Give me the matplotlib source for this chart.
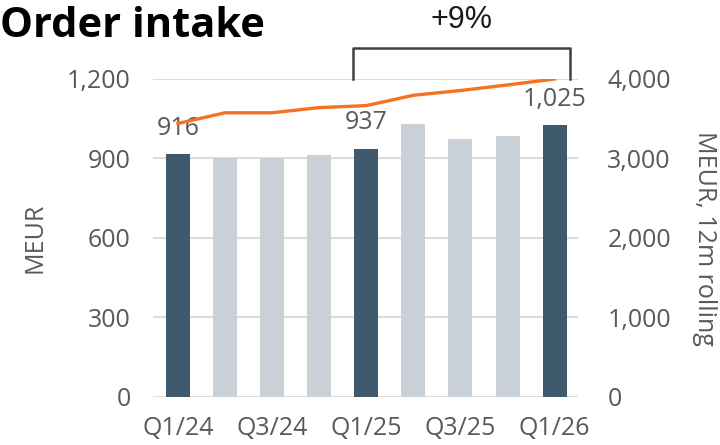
import matplotlib.pyplot as plt
import matplotlib.transforms as mtransforms

plt.rcParams["font.family"] = ["Open Sans", "DejaVu Sans"]

quarters = ["Q1/24", "Q2/24", "Q3/24", "Q4/24", "Q1/25", "Q2/25", "Q3/25", "Q4/25", "Q1/26"]
order_intake = [916, 902, 902, 914, 937, 1030, 972, 986, 1025]
rolling_12m = [3440, 3575, 3575, 3640, 3665, 3795, 3855, 3925, 4000]
highlight = [True, False, False, False, True, False, False, False, True]
tick_labels = ["Q1/24", "Q3/24", "Q1/25", "Q3/25", "Q1/26"]

DARK = "#3F5A6D"
LIGHT = "#C9D0D7"
ORANGE = "#F47320"
GREY = "#595959"
GRID = "#DCDCDC"


def main():
    fig = plt.figure(figsize=(7.2, 4.45), dpi=100)
    ax = fig.add_axes([0.2125, 0.108, 0.5905, 0.7145])
    ax2 = ax.twinx()

    x = list(range(len(quarters)))
    colors = [DARK if h else LIGHT for h in highlight]
    ax.bar(x, order_intake, width=0.51, color=colors, zorder=2)

    ax2.plot(x, rolling_12m, color=ORANGE, lw=2.4, zorder=3)

    # value labels on the highlighted quarters
    for i, (v, h) in enumerate(zip(order_intake, highlight)):
        if h:
            ax.annotate(f"{v:,}", (i, v), xytext=(0, 18.5), textcoords="offset points",
                        ha="center", va="center", fontsize=18, color=GREY, zorder=5)

    ax.set_xlim(-0.53, 8.5)
    ax.set_ylim(0, 1200)
    ax2.set_ylim(0, 4000)
    ax.set_yticks([0, 300, 600, 900, 1200])
    ax2.set_yticks([0, 1000, 2000, 3000, 4000])
    ax.set_yticklabels([f"{t:,}" for t in [0, 300, 600, 900, 1200]])
    ax2.set_yticklabels([f"{t:,}" for t in [0, 1000, 2000, 3000, 4000]])
    ax.set_xticks(x[::2])
    ax.set_xticklabels(tick_labels)

    ax.grid(axis="y", color=GRID, lw=1.5, zorder=0)
    ax.set_axisbelow(True)
    for a in (ax, ax2):
        for s in a.spines.values():
            s.set_visible(False)
        a.tick_params(length=0, labelsize=18, labelcolor=GREY)
    ax.tick_params(axis="y", pad=16)
    ax2.tick_params(axis="y", pad=21)
    ax.tick_params(axis="x", pad=14)

    ax.set_ylabel("MEUR", fontsize=18, color=GREY, labelpad=14)
    ax2.set_ylabel("MEUR, 12m rolling", fontsize=18, color=GREY, rotation=270,
                   labelpad=33)

    # growth bracket above the chart
    tr = mtransforms.blended_transform_factory(ax.transData, ax.transAxes)
    bx0, bx1 = 3.72, 8.32
    ax.plot([bx0, bx0, bx1, bx1], [1.0, 1.097, 1.097, 1.0], color="#404040",
            lw=1.8, transform=tr, clip_on=False)
    ax.text((bx0 + bx1) / 2, 1.185, "+9%", transform=tr, ha="center", va="center",
            fontsize=22, color="#1a1a1a", family=["Liberation Sans", "DejaVu Sans"])

    fig.text(0.0, 0.94, "Order intake", fontsize=30, fontweight="bold",
             color="black", ha="left", va="center")

    fig.savefig("out.png", dpi=100)
    plt.close(fig)


if __name__ == "__main__":
    main()
